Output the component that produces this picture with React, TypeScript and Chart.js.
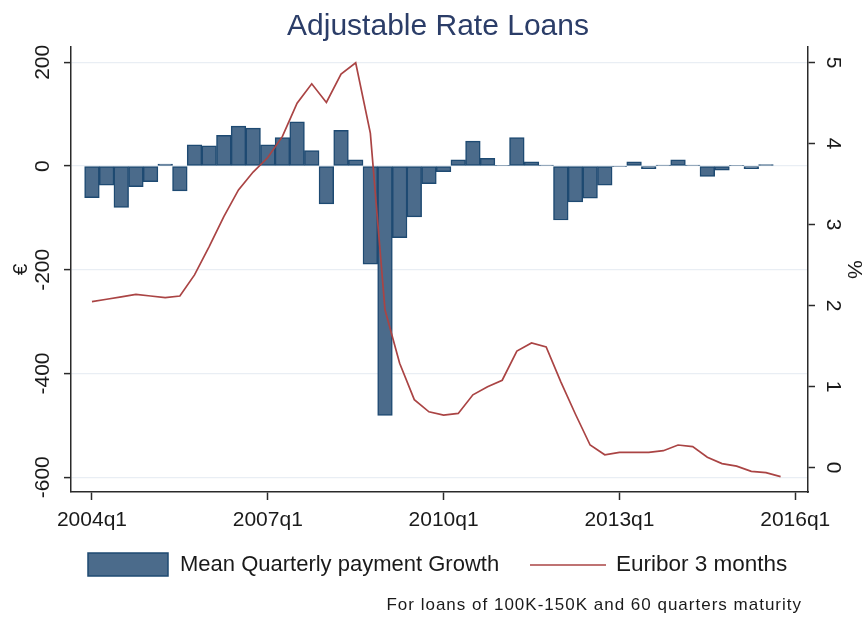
import React, { useEffect, useRef } from 'react';
import { Chart, registerables } from 'chart.js';

Chart.register(...registerables);

// Quarters (category positions along the x axis)
const quarters = [
  '2004q1', '2004q2', '2004q3', '2004q4',
  '2005q1', '2005q2', '2005q3', '2005q4',
  '2006q1', '2006q2', '2006q3', '2006q4',
  '2007q1', '2007q2', '2007q3', '2007q4',
  '2008q1', '2008q2', '2008q3', '2008q4',
  '2009q1', '2009q2', '2009q3', '2009q4',
  '2010q1', '2010q2', '2010q3', '2010q4',
  '2011q1', '2011q2', '2011q3', '2011q4',
  '2012q1', '2012q2', '2012q3', '2012q4',
  '2013q1', '2013q2', '2013q3', '2013q4',
  '2014q1', '2014q2', '2014q3', '2014q4',
  '2015q1', '2015q2', '2015q3', '2015q4',
  '2016q1',
];

// Mean Quarterly payment Growth (€), 2004q1 .. 2015q3
const paymentGrowth = [
  -61, -37, -80, -40, -30, 4, -48, 41,
  39, 59, 77, 73, 41, 55, 85, 30,
  -73, 69, 12, -189, -481, -138, -98, -34,
  -11, 12, 48, 15, 1, 55, 8, 2,
  -104, -69, -62, -37, -1, 8, -5, 2,
  12, 2, -20, -8, 1, -5, 3,
];

// Euribor 3 months (%), 2004q1 .. 2015q4
const euribor3m = [
  2.05, 2.08, 2.11, 2.14, 2.12, 2.10, 2.12, 2.38,
  2.73, 3.10, 3.43, 3.65, 3.83, 4.09, 4.50, 4.74,
  4.51, 4.86, 5.00, 4.13, 1.95, 1.29, 0.84, 0.69,
  0.65, 0.67, 0.90, 1.00, 1.08, 1.44, 1.54, 1.49,
  1.06, 0.66, 0.28, 0.16, 0.19, 0.19, 0.19, 0.21,
  0.28, 0.26, 0.13, 0.05, 0.02, -0.045, -0.06, -0.11,
];

const xTickLabels = ['2004q1', '2007q1', '2010q1', '2013q1', '2016q1'];
const leftTicks = [200, 0, -200, -400, -600];
const rightTicks = [5, 4, 3, 2, 1, 0];

const TITLE = 'Adjustable Rate Loans';
const BAR_LABEL = 'Mean Quarterly payment Growth';
const LINE_LABEL = 'Euribor 3 months';
const LEFT_TITLE = '€';
const RIGHT_TITLE = '%';
const NOTE = 'For loans of 100K-150K and 60 quarters maturity';

const FONT = '"Liberation Sans", Arial, Helvetica, sans-serif';
const BAR_FILL = '#4b6b8b';
const BAR_EDGE = '#1e4a72';
const LINE_COLOR = '#aa4444';
const AXIS = '#2a2a2a';
const GRID = '#e9eef4';
const TEXT = '#1a1a1a';

const decorPlugin = {
  id: 'decor',
  afterDraw(chart: any) {
    const ctx = chart.ctx as CanvasRenderingContext2D;
    const area = chart.chartArea;
    const ys = chart.scales.y;
    const y1 = chart.scales.y1;
    const midY = (area.top + area.bottom) / 2;
    ctx.save();

    // Title
    ctx.fillStyle = '#2b3d68';
    ctx.font = `30px ${FONT}`;
    ctx.textAlign = 'center';
    ctx.textBaseline = 'alphabetic';
    ctx.fillText(TITLE, 438, 35);

    // Left tick labels (rotated)
    ctx.fillStyle = TEXT;
    ctx.font = `21px ${FONT}`;
    ctx.textAlign = 'center';
    ctx.textBaseline = 'middle';
    for (const v of leftTicks) {
      const py = ys.getPixelForValue(v);
      ctx.save();
      ctx.translate(area.left - 28, py);
      ctx.rotate(-Math.PI / 2);
      ctx.fillText(String(v), 0, 0);
      ctx.restore();
    }
    ctx.save();
    ctx.translate(21, midY);
    ctx.rotate(-Math.PI / 2);
    ctx.fillText(LEFT_TITLE, 0, 0);
    ctx.restore();

    // Right tick labels (rotated)
    for (const v of rightTicks) {
      const py = y1.getPixelForValue(v);
      ctx.save();
      ctx.translate(area.right + 25, py);
      ctx.rotate(Math.PI / 2);
      ctx.fillText(String(v), 0, 0);
      ctx.restore();
    }
    ctx.save();
    ctx.translate(854, midY);
    ctx.rotate(Math.PI / 2);
    ctx.fillText(RIGHT_TITLE, 0, 0);
    ctx.restore();

    // Legend
    const ly = 565;
    ctx.fillStyle = BAR_FILL;
    ctx.fillRect(88, 553, 80, 23);
    ctx.strokeStyle = BAR_EDGE;
    ctx.lineWidth = 1.5;
    ctx.strokeRect(88, 553, 80, 23);
    ctx.fillStyle = TEXT;
    ctx.font = `22px ${FONT}`;
    ctx.textAlign = 'left';
    ctx.textBaseline = 'middle';
    ctx.fillText(BAR_LABEL, 180, ly);
    ctx.strokeStyle = LINE_COLOR;
    ctx.lineWidth = 1.6;
    ctx.beginPath();
    ctx.moveTo(530, ly);
    ctx.lineTo(606, ly);
    ctx.stroke();
    ctx.font = `22.5px ${FONT}`;
    ctx.fillText(LINE_LABEL, 616, ly);

    // Footnote
    ctx.font = `17px ${FONT}`;
    (ctx as any).letterSpacing = '1px';
    ctx.textAlign = 'right';
    ctx.fillText(NOTE, 802, 605);
    (ctx as any).letterSpacing = '0px';

    ctx.restore();
  },
};

export default function App() {
  const ref = useRef<HTMLCanvasElement | null>(null);

  useEffect(() => {
    document.body.style.margin = '0';
    const canvas = ref.current;
    if (!canvas) return;

    const barData = paymentGrowth.map((v, i) => ({ x: quarters.indexOf(quarters[i]), y: v }));
    const lineData = euribor3m.map((v, i) => ({ x: i, y: v }));

    const chart = new Chart(canvas, {
      type: 'bar',
      data: {
        datasets: [
          {
            type: 'line',
            label: LINE_LABEL,
            data: lineData,
            yAxisID: 'y1',
            borderColor: LINE_COLOR,
            borderWidth: 1.7,
            pointRadius: 0,
            tension: 0,
            fill: false,
            order: 0,
          } as any,
          {
            type: 'bar',
            label: BAR_LABEL,
            data: barData,
            yAxisID: 'y',
            backgroundColor: BAR_FILL,
            borderColor: BAR_EDGE,
            borderWidth: 1.5,
            borderSkipped: false,
            barPercentage: 1,
            categoryPercentage: 1,
            order: 1,
          } as any,
        ],
      },
      options: {
        responsive: false,
        maintainAspectRatio: false,
        animation: false,
        layout: { padding: { top: 47, left: 0, right: 0, bottom: 0 } },
        plugins: {
          legend: { display: false },
          tooltip: { enabled: false },
          title: { display: false },
        },
        scales: {
          x: {
            type: 'linear',
            min: -1.43,
            max: 48.87,
            offset: false,
            grid: {
              display: true,
              drawOnChartArea: false,
              drawTicks: true,
              tickLength: 8,
              tickColor: AXIS,
              tickWidth: 1.5,
              offset: false,
            },
            border: { display: true, color: AXIS, width: 1.5 },
            ticks: {
              color: TEXT,
              font: { family: FONT, size: 21 },
              padding: 8,
              maxRotation: 0,
              minRotation: 0,
              autoSkip: false,
              callback: (_v: any, i: number) => xTickLabels[i],
            },
            afterBuildTicks: (s: any) => {
              s.ticks = xTickLabels.map((l) => ({ value: quarters.indexOf(l) }));
            },
            afterFit: (s: any) => {
              s.height = 126;
            },
          },
          y: {
            type: 'linear',
            position: 'left',
            min: -628.4,
            max: 229.5,
            grid: {
              color: GRID,
              lineWidth: 1.2,
              drawTicks: true,
              tickLength: 7,
              tickColor: AXIS,
              tickWidth: 1.5,
            },
            border: { display: true, color: AXIS, width: 1.5 },
            ticks: { display: false },
            afterBuildTicks: (s: any) => {
              s.ticks = leftTicks.map((v) => ({ value: v }));
            },
            afterFit: (s: any) => {
              s.width = 71;
            },
          },
          y1: {
            type: 'linear',
            position: 'right',
            min: -0.3,
            max: 5.194,
            grid: {
              drawOnChartArea: false,
              drawTicks: true,
              tickLength: 7,
              tickColor: AXIS,
              tickWidth: 1.5,
            },
            border: { display: true, color: AXIS, width: 1.5 },
            ticks: { display: false },
            afterBuildTicks: (s: any) => {
              s.ticks = rightTicks.map((v) => ({ value: v }));
            },
            afterFit: (s: any) => {
              s.width = 56;
            },
          },
        },
      } as any,
      plugins: [decorPlugin],
    });

    return () => chart.destroy();
  }, []);

  return (
    <div style={{ width: 864, height: 618, background: '#fff' }}>
      <canvas ref={ref} width={864} height={618} style={{ display: 'block' }} />
    </div>
  );
}
